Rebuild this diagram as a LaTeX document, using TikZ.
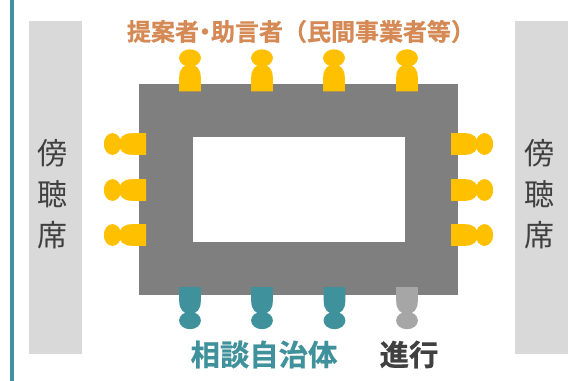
\documentclass[tikz,border=0pt]{standalone}
\usepackage{fontspec}
\newfontfamily\cjk{Noto Sans CJK JP}
\newfontfamily\cjkb[FakeBold=0.8]{Noto Sans CJK JP Bold}
\definecolor{gold}{HTML}{FFC000}
\definecolor{tealc}{HTML}{3F929C}
\definecolor{grayp}{HTML}{A6A6A6}
\definecolor{tablec}{HTML}{7F7F7F}
\definecolor{gallery}{HTML}{D9D9D9}
\definecolor{orangec}{HTML}{D58A55}
\definecolor{darkt}{HTML}{404040}
\tikzset{
  person/.pic={
    \fill (-10.8,0) -- (-10.8,-14) .. controls (-10.8,-22.5) and (-6.5,-27) .. (0,-27)
      .. controls (6.5,-27) and (10.8,-22.5) .. (10.8,-14) -- (10.8,0) -- cycle;
    \fill (0,-33.5) ellipse [x radius=10.9, y radius=8.7];
  },
  gallerytext/.style={font=\cjk\fontsize{22.5}{30.6}\selectfont, text=darkt, align=center, inner sep=0pt},
  boldlabel/.style={inner sep=0pt, anchor=center}
}
\begin{document}
\begin{tikzpicture}[x=.75pt,y=-.75pt]
\useasboundingbox (0,0) rectangle (581,381);
\fill[white] (0,0) rectangle (581,381);
\fill[tealc] (10,0) rectangle (14,381);
\fill[gallery] (29,21) rectangle (82,354);
\fill[gallery] (515,21) rectangle (568,354);
\fill[tablec] (139,84) rectangle (458,295);
\fill[white] (192.5,137) rectangle (404.5,241.7);
\foreach \x in {190,262,334,407}
  \pic[gold] at (\x,91.5) {person};
\foreach \y in {144,190,235}{
  \pic[gold,rotate=90] at (146,\y) {person};
  \pic[gold,rotate=-90] at (451,\y) {person};
}
\foreach \x in {190,262,334.5}
  \pic[tealc,rotate=180] at (\x,287) {person};
\pic[grayp,rotate=180] at (407,287) {person};
\node[gallerytext] (galL) at (52.5,194.5) {傍\\聴\\席};
\node[gallerytext] (galR) at (539,194.5) {傍\\聴\\席};
\node[boldlabel,text=orangec,font=\cjkb\fontsize{18}{22}\selectfont] (prop) at (301,31.5) {提案者\kern-.25em・\kern-.25em助言者（民間事業者等）};
\node[boldlabel,text=tealc,font=\cjkb\fontsize{22}{26}\selectfont] (muni) at (264,354.5) {相談自治体};
\node[boldlabel,text=darkt,font=\cjkb\fontsize{22}{26}\selectfont] (chair) at (409,354.5) {進行};
\end{tikzpicture}
\end{document}
